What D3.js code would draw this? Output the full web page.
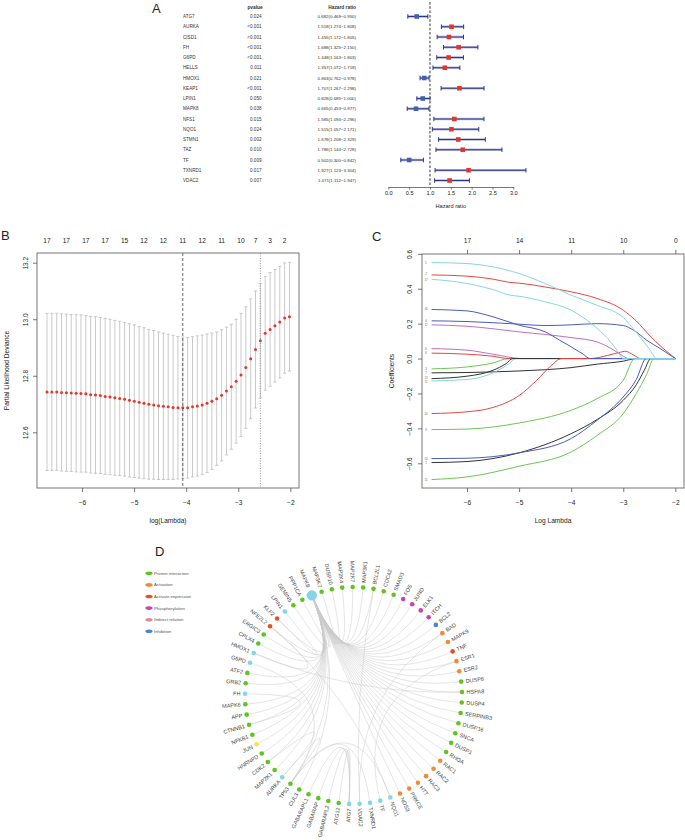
<!DOCTYPE html>
<html>
<head>
<meta charset="utf-8">
<script src="https://d3js.org/d3.v7.min.js"></script>
<style>
  body { margin: 0; background: #fff; }
  svg { display: block; font-family: "Liberation Sans", Arial, Helvetica, sans-serif; }
</style>
</head>
<body>
<svg id="fig" width="685" height="840"></svg>
<script>
// ---------- panel A : univariate cox ----------
var genes  = ["ATG7","AURKA","CISD1","FH","G6PD","HELLS","HMOX1","KEAP1","LPIN1","MAPK8","NFS1","NQO1","STMN1","TAZ","TF","TXNRD1","VDAC2"];
var pvals  = ["0.024","<0.001","<0.001","<0.001","<0.001","0.011","0.021","<0.001","0.050","0.038","0.015","0.024","0.002","0.010","0.009","0.017","0.007"];
var hr     = [0.682,1.518,1.455,1.688,1.448,1.357,0.863,1.707,0.828,0.665,1.585,1.515,1.678,1.786,0.502,1.927,1.471];
var hrLow  = [0.469,1.274,1.172,1.325,1.163,1.072,0.762,1.267,0.685,0.453,1.094,1.057,1.208,1.144,0.300,1.123,1.112];
var hrHigh = [0.950,1.808,1.805,2.150,1.803,1.718,0.978,2.298,1.000,0.977,2.296,2.171,2.329,2.728,0.842,3.304,1.947];
var hrTicks = [0, 0.5, 1, 1.5, 2, 2.5, 3];

// ---------- panel B : cv curve ----------
var cvLogLambda = [-6.672,-6.579,-6.486,-6.393,-6.300,-6.207,-6.113,-6.020,-5.927,-5.834,
  -5.741,-5.648,-5.555,-5.462,-5.369,-5.276,-5.182,-5.089,-4.996,-4.903,
  -4.810,-4.717,-4.624,-4.531,-4.438,-4.345,-4.251,-4.158,-4.065,-3.972,
  -3.879,-3.786,-3.693,-3.600,-3.507,-3.414,-3.320,-3.227,-3.134,-3.041,
  -2.948,-2.855,-2.762,-2.669,-2.576,-2.483,-2.389,-2.296,-2.203,-2.110,-2.017];
var cvm = [12.743,12.743,12.743,12.741,12.740,12.739,12.738,12.737,12.736,12.733,
  12.732,12.730,12.727,12.725,12.722,12.720,12.717,12.713,12.710,12.706,
  12.703,12.699,12.697,12.694,12.692,12.690,12.688,12.687,12.687,12.687,
  12.690,12.693,12.697,12.703,12.710,12.719,12.731,12.746,12.761,12.781,
  12.803,12.829,12.860,12.893,12.924,12.950,12.964,12.977,12.990,13.004,13.009];
var cvsd = [0.278,0.278,0.278,0.278,0.278,0.278,0.278,0.278,0.277,0.277,
  0.277,0.276,0.276,0.275,0.274,0.273,0.272,0.271,0.270,0.268,
  0.267,0.265,0.263,0.261,0.259,0.257,0.255,0.252,0.250,0.249,
  0.248,0.248,0.247,0.245,0.241,0.236,0.232,0.226,0.221,0.219,
  0.218,0.215,0.212,0.207,0.202,0.201,0.201,0.199,0.197,0.195,0.192];
var cvTopLambda = [-6.672,-6.300,-5.927,-5.555,-5.182,-4.810,-4.438,-4.065,-3.693,-3.320,-2.948,-2.669,-2.389,-2.110];
var cvTopDf = [17,17,17,17,15,12,12,11,12,11,10,7,3,2];
var lambdaMin = -4.065, lambda1se = -2.576;
var cvYTicks = [12.6, 12.8, 13.0, 13.2];
var lamTicks = [-6, -5, -4, -3, -2];

// ---------- panel C : coefficient paths ----------
var coefTopDf = [17, 14, 11, 10, 0];
var coefYTicks = [-0.6, -0.4, -0.2, 0.0, 0.2, 0.4, 0.6];
var coefPaths = [
  {id: 1,  pts: [[-6.68,-0.596],[-6.0,-0.590],[-5.0,-0.540],[-4.0,-0.430],[-3.5,-0.349],[-3.0,-0.239],[-2.75,-0.150],[-2.6,-0.070],[-2.47,0],[-2.0,0]]},
  {id: 2,  pts: [[-6.68,0.479],[-6.0,0.472],[-5.5,0.455],[-5.2,0.437],[-5.0,0.432],[-4.5,0.410],[-4.0,0.382],[-3.5,0.344],[-3.0,0.277],[-2.75,0.215],[-2.5,0.134],[-2.25,0.062],[-2.1,0.025],[-2.0,0]]},
  {id: 3,  pts: [[-6.68,-0.059],[-6.0,-0.048],[-5.5,-0.025],[-5.2,0],[-2.0,0]]},
  {id: 4,  pts: [[-6.68,0.216],[-6.0,0.212],[-5.0,0.197],[-4.5,0.189],[-4.0,0.193],[-3.5,0.200],[-3.0,0.189],[-2.8,0.162],[-2.55,0.105],[-2.29,0.057],[-2.0,0]]},
  {id: 5,  pts: [[-6.68,0.550],[-6.0,0.544],[-5.5,0.525],[-5.0,0.487],[-4.5,0.430],[-4.0,0.363],[-3.5,0.305],[-3.0,0.235],[-2.75,0.150],[-2.5,0.055],[-2.36,0],[-2.0,0]]},
  {id: 6,  pts: [[-6.68,0.057],[-6.0,0.048],[-5.5,0.025],[-4.95,0],[-2.0,0]]},
  {id: 7,  pts: [[-6.68,-0.082],[-6.0,-0.080],[-5.0,-0.071],[-4.0,-0.052],[-3.5,-0.032],[-3.0,-0.015],[-2.75,0],[-2.0,0]]},
  {id: 8,  pts: [[-6.68,0.031],[-6.0,0.025],[-5.5,0.013],[-5.2,0],[-3.64,0],[-3.3,0.018],[-3.06,0.036],[-2.96,0.042],[-2.8,0.020],[-2.67,0],[-2.0,0]]},
  {id: 9,  pts: [[-6.68,-0.407],[-6.0,-0.404],[-5.0,-0.369],[-4.0,-0.296],[-3.5,-0.229],[-3.0,-0.124],[-2.78,0],[-2.0,0]]},
  {id: 10, pts: [[-6.68,-0.573],[-6.0,-0.571],[-5.0,-0.540],[-4.0,-0.458],[-3.5,-0.353],[-3.0,-0.220],[-2.75,-0.120],[-2.56,0],[-2.0,0]]},
  {id: 11, pts: [[-6.68,-0.128],[-6.0,-0.120],[-5.5,-0.082],[-5.19,-0.029],[-5.06,0],[-2.0,0]]},
  {id: 12, pts: [[-6.68,0.193],[-6.0,0.185],[-5.0,0.153],[-4.0,0.120],[-3.5,0.095],[-3.18,0.048],[-3.0,0.013],[-2.9,0],[-2.0,0]]},
  {id: 13, pts: [[-6.68,-0.115],[-6.0,-0.101],[-5.5,-0.067],[-5.25,-0.029],[-5.12,0],[-2.0,0]]},
  {id: 14, pts: [[-6.68,-0.315],[-6.0,-0.305],[-5.5,-0.280],[-5.0,-0.212],[-4.66,-0.124],[-4.4,-0.045],[-4.18,0],[-2.0,0]]},
  {id: 15, pts: [[-6.68,-0.693],[-6.0,-0.678],[-5.0,-0.617],[-4.0,-0.535],[-3.5,-0.440],[-3.0,-0.315],[-2.75,-0.200],[-2.55,-0.090],[-2.41,0],[-2.0,0]]},
  {id: 16, pts: [[-6.68,0.281],[-6.0,0.273],[-5.5,0.239],[-5.0,0.191],[-4.5,0.153],[-4.22,0.105],[-4.0,0.067],[-3.77,0.025],[-3.64,0],[-2.0,0]]},
  {id: 17, pts: [[-6.68,0.454],[-6.0,0.430],[-5.5,0.395],[-5.17,0.363],[-5.0,0.357],[-4.5,0.325],[-4.0,0.277],[-3.7,0.220],[-3.5,0.172],[-3.3,0.115],[-3.12,0.048],[-3.0,0],[-2.0,0]]}
];
var rPalette = ["#333333","#e5483f","#6cc655","#4a5db8","#86d5e6","#bf6dca"];

// ---------- panel D : network ----------
var netNodes = ["MAPK8","MAP3K7","DUSP10","MAP2K4","MAP2K7","MAP3K1","BCL2L1","CDC42","SMAD3","FOS",
  "JUND","ELK1","ITCH","BCL2","BAD","MAPK9","TNF","ESR1","ESR2","DUSP8",
  "HSPA8","DUSP4","SERPINB3","DUSP16","SNCA","DUSP1","RHOA","RAC1","RAC2","RAC3",
  "HTT","PRKCE","NOS3","NQO1","TF","TXNRD1","VDAC2","ATG7","ATG12","GABARAPL2",
  "GABARAP","GABARAPL1","CUL3","TP53","AURKA","MAP2K1","CDK2","HNRNPD","JUN","NFKB1",
  "CTNNB1","APP","MAPK6","FH","GRB2","ATF2","G6PD","HMOX1","CPLX4","ERGIC3",
  "NFE2L2","KLF2","LPIN1","GEMIN5","PPP1CA"];
var netTypes = ["hub","ppi","ppi","ppi","ppi","ppi","ppi","ppi","ppi","phos",
  "phos","phos","phos","inh","act","act","actexp","act","act","ppi",
  "ppi","ppi","ppi","ppi","ppi","ppi","ppi","act","act","act",
  "act","act","act","hub","hub","hub","hub","hub","ppi","ppi",
  "ppi","ppi","ppi","ppi","hub","ppi","ppi","ppi","other","ppi",
  "ppi","ppi","ppi","hub","ppi","ppi","hub","hub","ppi","ppi",
  "actexp","actexp","hub","ppi","ppi"];
var mapk8Partners = ["MAP3K7","DUSP10","MAP2K4","MAP2K7","MAP3K1","BCL2L1","CDC42","SMAD3","FOS","JUND",
  "ELK1","ITCH","BCL2","BAD","MAPK9","TNF","ESR1","ESR2","DUSP8","HSPA8",
  "DUSP4","SERPINB3","DUSP16","SNCA","DUSP1","RHOA","RAC1","RAC2","RAC3","HTT",
  "PRKCE","NOS3","CUL3","TP53","MAP2K1","CDK2","HNRNPD","JUN","NFKB1","CTNNB1",
  "APP","MAPK6","GRB2","ATF2","CPLX4","ERGIC3","NFE2L2","KLF2","GEMIN5","PPP1CA"];
var otherEdges = [["ATG7","ATG12"],["ATG7","GABARAPL2"],["ATG7","GABARAP"],["ATG7","GABARAPL1"],
  ["VDAC2","BCL2L1"],["VDAC2","BAD"],["NQO1","NFE2L2"],["NQO1","TP53"],["HMOX1","NFE2L2"],
  ["HMOX1","HSPA8"],["TXNRD1","TP53"],["AURKA","TP53"],["AURKA","CDK2"],["G6PD","TP53"],
  ["TF","ESR1"],["LPIN1","KLF2"],["FH","CTNNB1"]];
var legendLabels = ["Protein interaction","Activation","Activate expression","Phosphorylation","Indirect relation","Inhibition"];
var legendColors = ["#5fc41f","#f58a32","#e8511e","#c645b0","#db8c96","#4a86c8"];
var typeColor = {hub: "#83d5e8", ppi: "#5fc41f", act: "#f58a32", actexp: "#e8511e", phos: "#c645b0", inh: "#4a86c8", other: "#f3e54d"};

var svg = d3.select('#fig');

function styleAxis(g, fs) {
  g.select('.domain').attr('stroke', '#555').attr('stroke-width', 0.8);
  g.selectAll('.tick line').attr('stroke', '#555').attr('stroke-width', 0.8);
  g.selectAll('.tick text').attr('font-size', fs).attr('fill', '#222').attr('font-family', null);
}

// ======== A ========
var gA = svg.append('g');
gA.append('text').attr('x', 152).attr('y', 13).attr('font-size', 13).attr('fill', '#222').text('A');
gA.append('text').attr('x', 255).attr('y', 8.8).attr('text-anchor', 'middle')
  .attr('font-size', 4.8).attr('font-weight', 'bold').attr('fill', '#333').text('pvalue');
gA.append('text').attr('x', 356).attr('y', 8.8).attr('text-anchor', 'end')
  .attr('font-size', 4.8).attr('font-weight', 'bold').attr('fill', '#333').text('Hazard ratio');

var xA = d3.scaleLinear().domain([0, 3]).range([388.3, 513.3]);
var yA = d3.scalePoint().domain(genes).range([16.5, 180.5]);

genes.forEach(function(g, i) {
  var y = yA(g) + 1.6;
  gA.append('text').attr('x', 183).attr('y', y).attr('font-size', 4.6).attr('fill', '#333').text(g);
  gA.append('text').attr('x', 261.5).attr('y', y).attr('text-anchor', 'end').attr('font-size', 4.6).attr('fill', '#333').text(pvals[i]);
  gA.append('text').attr('x', 356).attr('y', y).attr('text-anchor', 'end').attr('font-size', 4.4).attr('fill', '#333')
    .text(hr[i].toFixed(3) + '(' + hrLow[i].toFixed(3) + '\u2212' + hrHigh[i].toFixed(3) + ')');
});

gA.append('line').attr('x1', xA(1)).attr('x2', xA(1)).attr('y1', 2).attr('y2', 186)
  .attr('stroke', '#555').attr('stroke-width', 1.2).attr('stroke-dasharray', '2.5,1.8');

genes.forEach(function(g, i) {
  var y = yA(g);
  gA.append('line').attr('x1', xA(hrLow[i])).attr('x2', xA(hrHigh[i])).attr('y1', y).attr('y2', y)
    .attr('stroke', '#b3b7d9').attr('stroke-width', 2.6);
  gA.append('line').attr('x1', xA(hrLow[i])).attr('x2', xA(hrHigh[i])).attr('y1', y).attr('y2', y)
    .attr('stroke', '#2d3585').attr('stroke-width', 1);
  [hrLow[i], hrHigh[i]].forEach(function(v) {
    gA.append('line').attr('x1', xA(v)).attr('x2', xA(v)).attr('y1', y - 2.3).attr('y2', y + 2.3)
      .attr('stroke', '#2d3585').attr('stroke-width', 1);
  });
  gA.append('rect').attr('x', xA(hr[i]) - 2.3).attr('y', y - 2.3).attr('width', 4.6).attr('height', 4.6)
    .attr('fill', hr[i] < 1 ? '#3f60b3' : '#e5352b');
});

var axA = gA.append('g').attr('transform', 'translate(0,187)')
  .call(d3.axisBottom(xA).tickValues(hrTicks).tickFormat(d3.format('.1f')).tickSize(2.5).tickSizeOuter(0).tickPadding(2));
styleAxis(axA, 5.6);
gA.append('text').attr('x', xA(1.5)).attr('y', 207.5).attr('text-anchor', 'middle')
  .attr('font-size', 5.6).attr('fill', '#222').text('Hazard ratio');

// ======== B ========
var gB = svg.append('g');
gB.append('text').attr('x', 1).attr('y', 240).attr('font-size', 13).attr('fill', '#222').text('B');
var xB = d3.scaleLinear().domain([-6.864, -1.834]).range([37, 299]);
var yB = d3.scaleLinear().domain([12.6, 13.2]).range([432.3, 262.7]);

cvLogLambda.forEach(function(l, i) {
  var x = xB(l), lo = yB(cvm[i] - cvsd[i]), hi = yB(cvm[i] + cvsd[i]);
  gB.append('line').attr('x1', x).attr('x2', x).attr('y1', lo).attr('y2', hi).attr('stroke', '#bdbdbd').attr('stroke-width', 0.8);
  gB.append('line').attr('x1', x - 1.6).attr('x2', x + 1.6).attr('y1', lo).attr('y2', lo).attr('stroke', '#bdbdbd').attr('stroke-width', 0.8);
  gB.append('line').attr('x1', x - 1.6).attr('x2', x + 1.6).attr('y1', hi).attr('y2', hi).attr('stroke', '#bdbdbd').attr('stroke-width', 0.8);
});
gB.selectAll('circle.cv').data(cvLogLambda).enter().append('circle')
  .attr('cx', function(d) { return xB(d); }).attr('cy', function(d, i) { return yB(cvm[i]); })
  .attr('r', 1.5).attr('fill', '#e8342a');

gB.append('line').attr('x1', xB(lambdaMin)).attr('x2', xB(lambdaMin)).attr('y1', 253).attr('y2', 488)
  .attr('stroke', '#444').attr('stroke-width', 0.8).attr('stroke-dasharray', '3,2');
gB.append('line').attr('x1', xB(lambda1se)).attr('x2', xB(lambda1se)).attr('y1', 253).attr('y2', 488)
  .attr('stroke', '#888').attr('stroke-width', 0.8).attr('stroke-dasharray', '1,1.5');

gB.append('rect').attr('x', 37).attr('y', 253).attr('width', 262).attr('height', 235)
  .attr('fill', 'none').attr('stroke', '#777').attr('stroke-width', 1);

var axBx = gB.append('g').attr('transform', 'translate(0,488)')
  .call(d3.axisBottom(xB).tickValues(lamTicks).tickFormat(function(d) { return d < 0 ? '\u2212' + (-d) : d; })
    .tickSize(4).tickSizeOuter(0).tickPadding(8));
styleAxis(axBx, 6.6);
axBx.select('.domain').remove();
var axBy = gB.append('g').attr('transform', 'translate(37,0)')
  .call(d3.axisLeft(yB).tickValues(cvYTicks).tickFormat(d3.format('.1f')).tickSize(4).tickSizeOuter(0));
styleAxis(axBy, 6.6);
axBy.select('.domain').remove();
axBy.selectAll('.tick text').attr('transform', 'rotate(-90)').attr('x', 0).attr('y', -9.5).attr('dy', 0).attr('text-anchor', 'middle');

cvTopLambda.forEach(function(l, i) {
  gB.append('text').attr('x', xB(l)).attr('y', 242.6).attr('text-anchor', 'middle')
    .attr('font-size', 6.6).attr('fill', '#222').text(cvTopDf[i]);
});
gB.append('text').attr('x', 168).attr('y', 523).attr('text-anchor', 'middle').attr('font-size', 6.6).attr('fill', '#222').text('log(Lambda)');
gB.append('text').attr('transform', 'translate(8.5,370.5) rotate(-90)').attr('text-anchor', 'middle')
  .attr('font-size', 6.6).attr('fill', '#222').text('Partial Likelihood Deviance');

// ======== C ========
var gC = svg.append('g');
gC.append('text').attr('x', 372).attr('y', 241).attr('font-size', 13).attr('fill', '#222').text('C');
var xC = d3.scaleLinear().domain([-6.864, -1.834]).range([422, 684]);
var yC = d3.scaleLinear().domain([-0.6, 0.6]).range([463.3, 253.8]);
var coefLine = d3.line().x(function(d) { return xC(d[0]); }).y(function(d) { return yC(d[1]); }).curve(d3.curveMonotoneX);

coefPaths.forEach(function(p) {
  gC.append('path').attr('d', coefLine(p.pts)).attr('fill', 'none')
    .attr('stroke', rPalette[(p.id - 1) % 6]).attr('stroke-width', 1);
});
// tiny index labels at the left end of each path (two nearly coincide, nudge them apart)
var labelNudge = {11: 0.9, 13: -0.9, 2: -0.6, 17: 0.6};
coefPaths.forEach(function(p) {
  gC.append('text').attr('x', 426).attr('y', yC(p.pts[0][1]) + 1 + (labelNudge[p.id] || 0)).attr('text-anchor', 'middle')
    .attr('font-size', 2.8).attr('fill', '#666').text(p.id);
});

gC.append('rect').attr('x', 422).attr('y', 254).attr('width', 262).attr('height', 234)
  .attr('fill', 'none').attr('stroke', '#777').attr('stroke-width', 1);

var axCx = gC.append('g').attr('transform', 'translate(0,488)')
  .call(d3.axisBottom(xC).tickValues(lamTicks).tickFormat(function(d) { return d < 0 ? '\u2212' + (-d) : d; })
    .tickSize(4).tickSizeOuter(0).tickPadding(8));
styleAxis(axCx, 6.6);
axCx.select('.domain').remove();
var axCt = gC.append('g').attr('transform', 'translate(0,254)')
  .call(d3.axisTop(xC).tickValues(lamTicks).tickFormat(function(d, i) { return coefTopDf[i]; })
    .tickSize(4).tickSizeOuter(0).tickPadding(7.4));
styleAxis(axCt, 6.6);
axCt.select('.domain').remove();
var axCy = gC.append('g').attr('transform', 'translate(422,0)')
  .call(d3.axisLeft(yC).tickValues(coefYTicks).tickFormat(function(d) { return d < 0 ? '\u2212' + (-d).toFixed(1) : d.toFixed(1); })
    .tickSize(4).tickSizeOuter(0));
styleAxis(axCy, 6.6);
axCy.select('.domain').remove();
axCy.selectAll('.tick text').attr('transform', 'rotate(-90)').attr('x', 0).attr('y', -10.5).attr('dy', 0).attr('text-anchor', 'middle');

gC.append('text').attr('x', 553).attr('y', 523).attr('text-anchor', 'middle').attr('font-size', 6.6).attr('fill', '#222').text('Log Lambda');
gC.append('text').attr('transform', 'translate(394,371) rotate(-90)').attr('text-anchor', 'middle')
  .attr('font-size', 6.6).attr('fill', '#222').text('Coefficients');

// ======== D ========
var gD = svg.append('g');
gD.append('text').attr('x', 155).attr('y', 556).attr('font-size', 13).attr('fill', '#222').text('D');

legendLabels.forEach(function(t, i) {
  var y = 573.3 + i * 11.6;
  gD.append('ellipse').attr('cx', 149).attr('cy', y).attr('rx', 3.6).attr('ry', 1.8).attr('fill', legendColors[i]);
  gD.append('text').attr('x', 154).attr('y', y + 1.5).attr('font-size', 4.3).attr('fill', '#555').text(t);
});

var cx = 353.5, cy = 695.5, R = 108.5;
var ang = d3.scaleLinear().domain([0, netNodes.length]).range([-22.6, 337.4]);
function pos(i, r) {
  var a = ang(i) * Math.PI / 180;
  return [cx + r * Math.sin(a), cy - r * Math.cos(a)];
}
var idx = {};
netNodes.forEach(function(n, i) { idx[n] = i; });

var edges = mapk8Partners.map(function(n) { return ["MAPK8", n]; }).concat(otherEdges);
edges.forEach(function(e) {
  var p0 = pos(idx[e[0]], R), p1 = pos(idx[e[1]], R);
  var path = d3.path();
  path.moveTo(p0[0], p0[1]);
  path.quadraticCurveTo(cx, cy, p1[0], p1[1]);
  gD.append('path').attr('d', path.toString()).attr('fill', 'none')
    .attr('stroke', '#c9c9c9').attr('stroke-width', 0.55).attr('stroke-opacity', 0.9);
});

netNodes.forEach(function(n, i) {
  var big = (n === "MAPK8");
  var p = pos(i, R);
  gD.append('circle').attr('cx', p[0]).attr('cy', p[1]).attr('r', big ? 5.2 : 2.3).attr('fill', typeColor[netTypes[i]]);
  var a = ((ang(i) % 360) + 360) % 360;
  var q = pos(i, R + (big ? 9 : 4.6));
  var rot = a < 180 ? a - 90 : a + 90;
  gD.append('text').attr('transform', 'translate(' + q[0] + ',' + q[1] + ') rotate(' + rot + ')')
    .attr('text-anchor', a < 180 ? 'start' : 'end').attr('dy', '0.35em')
    .attr('font-size', 5.5).attr('fill', '#444').text(n);
});
</script>
</body>
</html>
